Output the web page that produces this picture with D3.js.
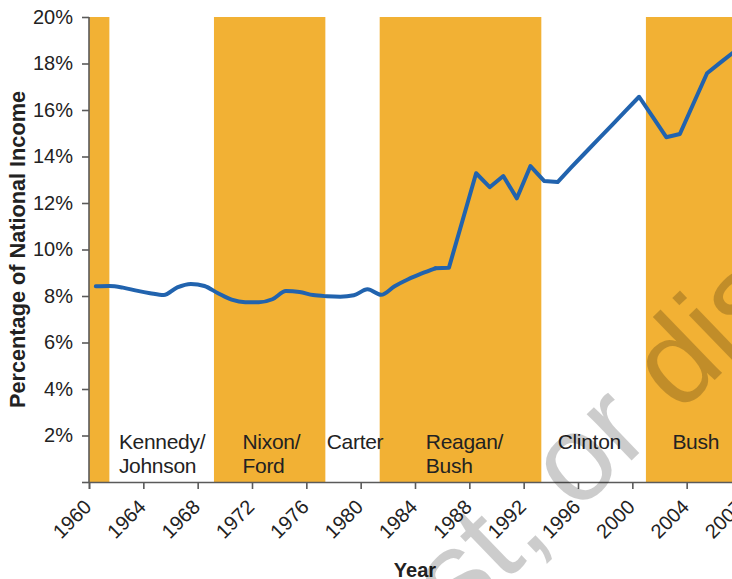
<!DOCTYPE html>
<html>
<head>
<meta charset="utf-8">
<script src="https://cdn.jsdelivr.net/npm/d3@7/dist/d3.min.js"></script>
<style>
  html, body { margin: 0; padding: 0; background: #fff; }
  svg { display: block; }
  text { font-family: "Liberation Sans", Arial, Helvetica, sans-serif; }
</style>
</head>
<body>
<svg id="chart" width="732" height="579"></svg>
<script>
// Share of national income (%), one value per year
const years = [1960,1961,1962,1963,1964,1965,1966,1967,1968,1969,
               1970,1971,1972,1973,1974,1975,1976,1977,1978,1979,
               1980,1981,1982,1983,1984,1985,1986,1987,1988,1989,
               1990,1991,1992,1993,1994,1995,1996,1997,1998,1999,
               2000,2001,2002,2003,2004,2005,2006,2007];
const shares = [8.42,8.43,8.36,8.23,8.12,8.04,8.37,8.52,8.43,8.12,
                7.84,7.73,7.73,7.86,8.21,8.17,8.04,7.99,7.97,8.03,
                8.29,8.05,8.42,8.72,8.97,9.19,9.22,11.25,13.28,12.68,
                13.16,12.20,13.59,12.95,12.90,13.53,14.14,14.75,15.35,15.96,
                16.57,15.70,14.83,14.97,16.28,17.58,18.05,18.50];

// Republican administrations (shaded spans, in years)
const bandStart = [1960, 1969.2, 1981.4, 2001];
const bandEnd   = [1961.5, 1977.4, 1993.3, 2009];

// Administration names and where their labels sit (year)
const adminNames = [["Kennedy/", "Johnson"], ["Nixon/", "Ford"], ["Carter"],
                    ["Reagan/", "Bush"], ["Clinton"], ["Bush"]];
const adminLabelAt = [1962.2, 1971.3, 1977.5, 1984.8, 1994.5, 2002.95];

const xTicks = [1960,1964,1968,1972,1976,1980,1984,1988,1992,1996,2000,2004,2008];
const xTickLabels = ["1960","1964","1968","1972","1976","1980","1984",
                     "1988","1992","1996","2000","2004","2007"];
const yTicks = [0,2,4,6,8,10,12,14,16,18,20];
const yTickLabels = ["","2%","4%","6%","8%","10%","12%","14%","16%","18%","20%"];

// the early, gently varying years are drawn as a smooth curve
const smoothUntil = 1985;

const svg = d3.select("#chart");

const x = d3.scaleLinear().domain([1960, 2008]).range([89, 741]);
const y = d3.scaleLinear().domain([0, 20]).range([482, 17]);

// shaded bands
svg.append("g").selectAll("rect")
  .data(d3.range(bandStart.length))
  .join("rect")
  .attr("x", i => x(bandStart[i]))
  .attr("width", i => x(bandEnd[i]) - x(bandStart[i]))
  .attr("y", y(20))
  .attr("height", y(0) - y(20))
  .attr("fill", "#f2b134");

// income share line, points plotted at mid-year
const pts = years.map((yr, i) => [yr, shares[i]]);
const early = pts.filter(p => p[0] <= smoothUntil);
const late = pts.filter(p => p[0] >= smoothUntil);

const lineGen = curve => d3.line()
  .x(p => x(p[0] + 0.5))
  .y(p => y(p[1]))
  .curve(curve);

const lines = svg.append("g")
  .attr("fill", "none")
  .attr("stroke", "#2163ae")
  .attr("stroke-width", 4)
  .attr("stroke-linejoin", "round")
  .attr("stroke-linecap", "round");
lines.append("path").attr("d", lineGen(d3.curveMonotoneX)(early));
lines.append("path").attr("d", lineGen(d3.curveLinear)(late));

// axes
const axisColor = "#5a5a5a";
const yAxis = svg.append("g")
  .attr("transform", `translate(${x(1960)},0)`)
  .call(d3.axisLeft(y).tickValues(yTicks).tickSize(7).tickPadding(9)
        .tickFormat((d, i) => yTickLabels[i]));
const xAxis = svg.append("g")
  .attr("transform", `translate(0,${y(0)})`)
  .call(d3.axisBottom(x).tickValues(xTicks).tickSize(7)
        .tickFormat((d, i) => xTickLabels[i]));

[yAxis, xAxis].forEach(g => {
  g.select(".domain").attr("stroke", axisColor).attr("stroke-width", 1.6);
  g.selectAll(".tick line").attr("stroke", axisColor).attr("stroke-width", 1.6);
  g.selectAll("text").attr("fill", "#222").style("font-size", "20px");
});
yAxis.select(".domain").attr("d", `M0,${y(20)}V${y(0)}`);

xAxis.selectAll(".tick text")
  .attr("text-anchor", "end")
  .attr("transform", "translate(-7,16) rotate(-45)")
  .attr("x", 0).attr("y", 0).attr("dy", "0.72em");

// axis titles
svg.append("text")
  .attr("transform", `translate(25,${(y(0) + y(20)) / 2 + 0}) rotate(-90)`)
  .attr("text-anchor", "middle")
  .style("font-size", "21.7px").style("font-weight", "bold").attr("fill", "#222")
  .text("Percentage of National Income");

svg.append("text")
  .attr("x", 415).attr("y", 577)
  .attr("text-anchor", "middle")
  .style("font-size", "20px").style("font-weight", "bold").attr("fill", "#222")
  .text("Year");

// administration labels
const labels = svg.append("g");
adminNames.forEach((names, i) => {
  const t = labels.append("text")
    .attr("x", x(adminLabelAt[i])).attr("y", 449)
    .style("font-size", "21px").style("letter-spacing", "-0.3px")
    .attr("fill", "#222");
  names.forEach((s, j) => t.append("tspan")
    .attr("x", x(adminLabelAt[i])).attr("dy", j === 0 ? 0 : 24).text(s));
});

// diagonal notice across the lower right
const notice = "Do not copy, post, or distribute";
const wm = svg.append("g").attr("transform", "translate(579,467) rotate(-44)");
const wt = wm.append("text")
  .style("font-size", "122px")
  .attr("fill", "#000").attr("fill-opacity", 0.2)
  .text(notice);
const k = notice.indexOf("or d");
const ext = wt.node().getExtentOfChar(k);
wt.attr("x", -(ext.x + ext.width / 2)).attr("y", 122 * 0.26);
</script>
</body>
</html>
